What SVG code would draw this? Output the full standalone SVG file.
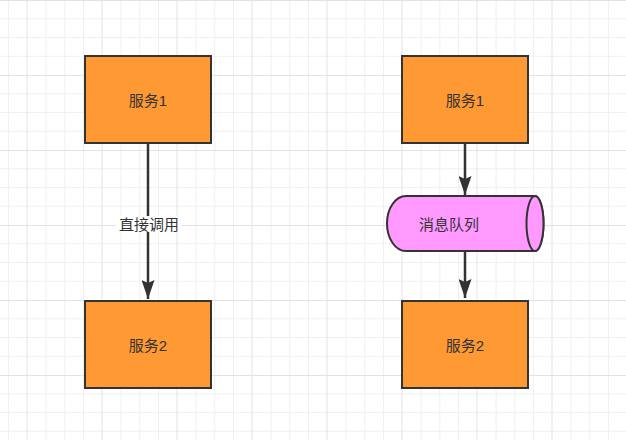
<svg xmlns="http://www.w3.org/2000/svg" width="626" height="440" viewBox="0 0 626 440">
  <defs>
    <pattern id="grid" x="8" y="0" width="75" height="75" patternUnits="userSpaceOnUse">
      <g stroke="#f0f0f0" stroke-width="1">
        <line x1="0.5" y1="0" x2="0.5" y2="75"/>
        <line x1="38" y1="0" x2="38" y2="75"/>
        <line x1="56.75" y1="0" x2="56.75" y2="75"/>
        <line x1="0" y1="18.75" x2="75" y2="18.75"/>
        <line x1="0" y1="37.5" x2="75" y2="37.5"/>
        <line x1="0" y1="56.25" x2="75" y2="56.25"/>
      </g>
      <g stroke="#e3e3e3" stroke-width="1">
        <line x1="19" y1="0" x2="19" y2="75"/>
        <line x1="0" y1="0.5" x2="75" y2="0.5"/>
      </g>
    </pattern>
    <marker id="arrow" markerWidth="19" markerHeight="13" refX="19" refY="6.5" orient="auto" markerUnits="userSpaceOnUse" viewBox="0 0 19 13">
      <path d="M0,0 L19,6.5 L0,13 L3,6.5 Z" fill="#333333"/>
    </marker>
    <style>
      .box { fill: #ff9933; stroke: #333333; stroke-width: 2; }
      .cyl { fill: #ff99ff; stroke: #333333; stroke-width: 2; }
      .lbl { font-family: "Liberation Sans", "Noto Sans CJK SC", sans-serif; font-size: 15px; fill: #333333; text-anchor: middle; dominant-baseline: central; }
      .conn { stroke: #333333; stroke-width: 2.5; fill: none; }
    </style>
  </defs>
  <rect x="0" y="0" width="626" height="440" fill="#ffffff"/>
  <rect x="0" y="0" width="626" height="440" fill="url(#grid)"/>

  <g id="connectors">
    <g id="edge-left">
      <line class="conn" x1="148" y1="143" x2="148" y2="299" marker-end="url(#arrow)"/>
      <rect x="116" y="216" width="66" height="16" fill="#ffffff"/>
      <text class="lbl" x="149" y="224">直接调用</text>
    </g>
    <line id="edge-right-1" class="conn" x1="465" y1="143" x2="465" y2="195" marker-end="url(#arrow)"/>
    <line id="edge-right-2" class="conn" x1="465" y1="251" x2="465" y2="298" marker-end="url(#arrow)"/>
  </g>

  <g id="svc1-left">
    <rect class="box" x="85" y="56" width="126" height="87"/>
    <text class="lbl" x="148" y="100">服务1</text>
  </g>
  <g id="svc2-left">
    <rect class="box" x="85" y="301" width="126" height="87"/>
    <text class="lbl" x="148" y="345">服务2</text>
  </g>
  <g id="svc1-right">
    <rect class="box" x="402" y="56" width="126" height="87"/>
    <text class="lbl" x="465" y="100">服务1</text>
  </g>
  <g id="mq">
    <path class="cyl" d="M406,196 L535,196 A8.5,27.5 0 0 1 535,251 L406,251 A19,27.5 0 0 1 406,196 Z"/>
    <ellipse class="cyl" cx="535" cy="223.5" rx="8.5" ry="27.5"/>
    <text class="lbl" x="449" y="224">消息队列</text>
  </g>
  <g id="svc2-right">
    <rect class="box" x="402" y="301" width="126" height="87"/>
    <text class="lbl" x="465" y="345">服务2</text>
  </g>
</svg>
